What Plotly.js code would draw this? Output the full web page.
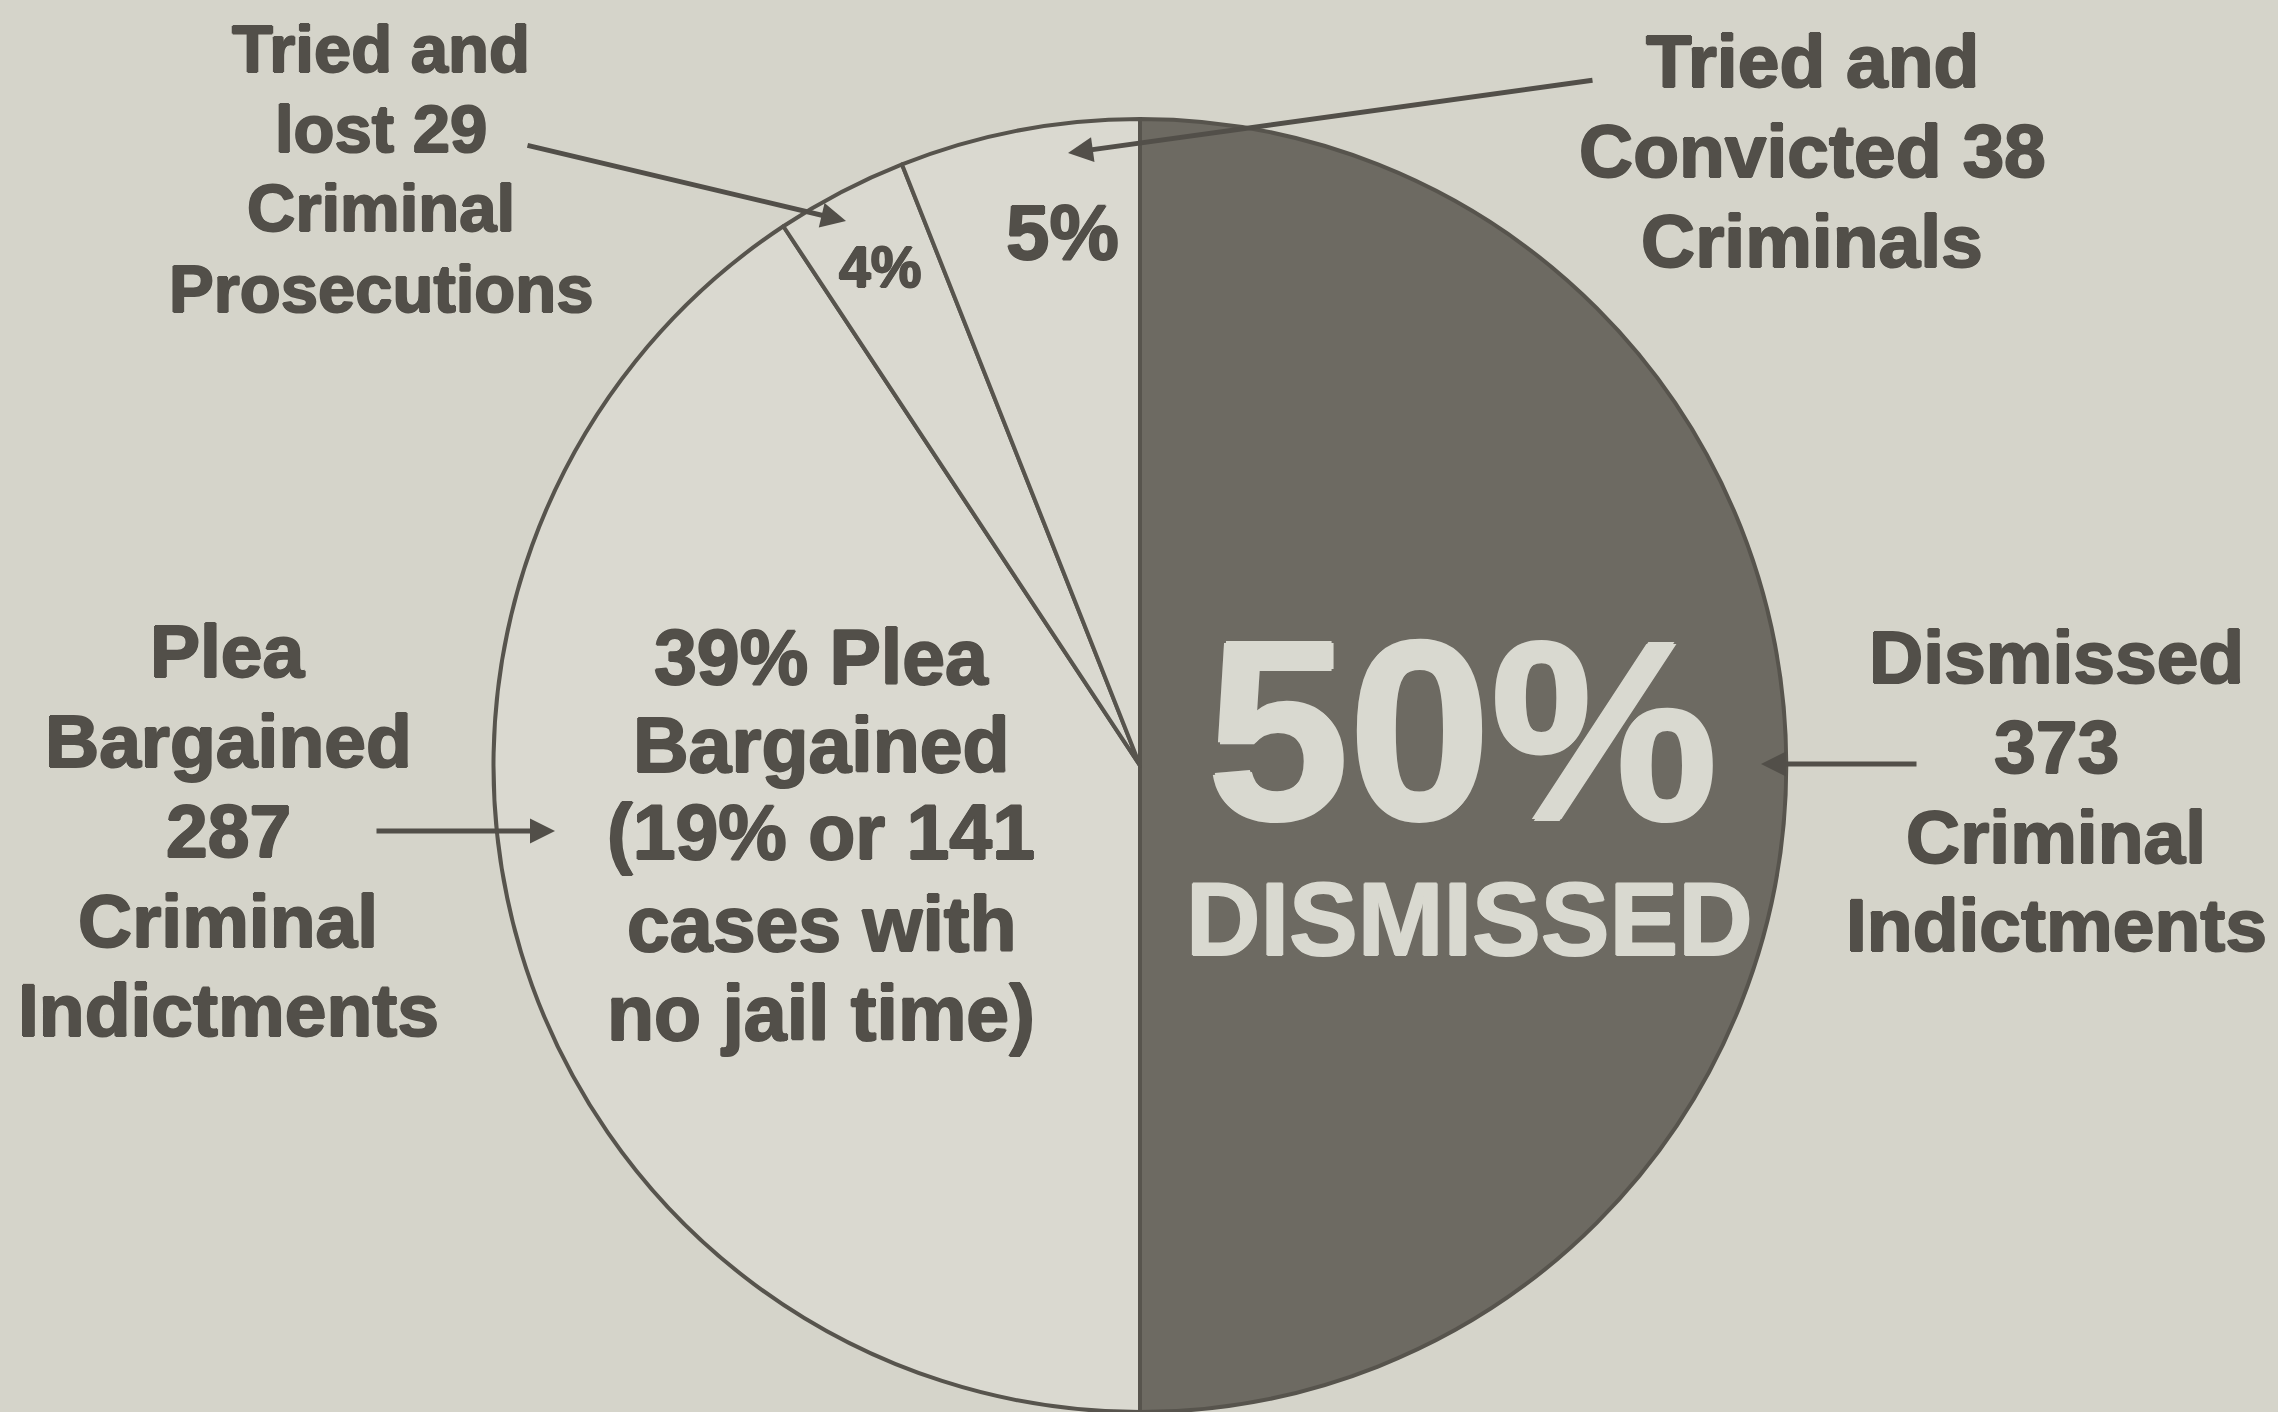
<!DOCTYPE html>
<html>
<head>
<meta charset="utf-8">
<script src="https://cdn.plot.ly/plotly-3.0.1.min.js"></script>
<style>
html,body{margin:0;padding:0;background:#d5d4ca;}
#chart{width:2278px;height:1412px;}
</style>
</head>
<body>
<div id="chart"></div>
<script>
// ---- data ----
const sliceLabels = ['Dismissed', 'Plea Bargained', 'Tried and lost', 'Tried and convicted'];
// share of the circle each slice occupies as drawn (percent)
const sliceShares = [50, 40.7, 3.3, 6.0];
// case counts printed in the callouts
const caseCounts = [373, 287, 29, 38];
// percentages printed on the chart
const printedPercents = [50, 39, 4, 5];
const noJailPercent = 19;
const noJailCases = 141;

// ---- styling ----
const W = 2278, H = 1412;
const BG = '#d5d4ca';
const LIGHT = '#dad9d0';
const DARK = '#6d6a62';
const EDGE = '#57544d';
const INK = '#524f49';
const PALE = '#d9d9d0';
const FAMILY = '"Liberation Sans", Arial, sans-serif';

const px = x => x / W;
const py = y => 1 - y / H;

// faux-heavy weight: thin outline of the same colour around the glyphs
function heavy(c, d) {
  return [d + 'px 0 0 ' + c, '-' + d + 'px 0 0 ' + c, '0 ' + d + 'px 0 ' + c, '0 -' + d + 'px 0 ' + c].join(', ');
}

const annotations = [];
function textLines(lines, cx, ys, size, color, d) {
  const col = color || INK;
  lines.forEach((t, i) => {
    annotations.push({
      xref: 'paper', yref: 'paper', x: px(cx), y: py(ys[i]),
      xanchor: 'center', yanchor: 'middle', showarrow: false,
      text: t,
      font: {family: FAMILY, size: size, color: col, weight: 'bold', shadow: heavy(col, d || 1)}
    });
  });
}
function arrow(hx, hy, tx, ty) {
  annotations.push({
    xref: 'paper', yref: 'paper', x: px(hx), y: py(hy),
    ax: tx - hx, ay: ty - hy, axref: 'pixel', ayref: 'pixel',
    text: '', showarrow: true, arrowhead: 2, arrowsize: 1, arrowwidth: 5,
    arrowcolor: INK, standoff: 0, startstandoff: 0
  });
}

// callouts outside the pie
textLines(['Tried and', 'lost ' + caseCounts[2], 'Criminal', 'Prosecutions'], 381, [48, 128, 208, 289], 67);
textLines(['Tried and', 'Convicted ' + caseCounts[3], 'Criminals'], 1812, [61, 151, 241], 75);
textLines(['Plea', 'Bargained', String(caseCounts[1]), 'Criminal', 'Indictments'], 228, [651, 741, 831, 921, 1010], 75);
textLines(['Dismissed', String(caseCounts[0]), 'Criminal', 'Indictments'], 2056, [657, 747, 837, 925], 75);

// labels inside the pie
textLines([printedPercents[1] + '% Plea', 'Bargained', '(' + noJailPercent + '% or ' + noJailCases, 'cases with', 'no jail time)'],
          821, [657, 745, 832, 924, 1013], 77);
textLines([printedPercents[0] + '%'], 1462, [730], 255, PALE, 2);
textLines(['DISMISSED'], 1469, [919], 103, PALE, 1);
textLines([printedPercents[3] + '%'], 1062, [232], 78);
textLines([printedPercents[2] + '%'], 880, [267], 57);

// arrows (head, tail)
arrow(846, 221, 526, 145);
arrow(1068, 153, 1594, 80);
arrow(555, 831, 375, 831);
arrow(1761, 764, 1918, 764);

const trace = {
  type: 'pie',
  labels: sliceLabels,
  values: sliceShares,
  sort: false,
  direction: 'clockwise',
  rotation: 0,
  textinfo: 'none',
  hoverinfo: 'skip',
  marker: {colors: [DARK, LIGHT, LIGHT, LIGHT], line: {color: EDGE, width: 4}},
  domain: {x: [(1140 - 646.5) / W, (1140 + 646.5) / W], y: [0, 1 - 119 / H]}
};

const layout = {
  width: W, height: H,
  margin: {l: 0, r: 0, t: 0, b: 0},
  paper_bgcolor: BG, plot_bgcolor: BG,
  showlegend: false,
  annotations: annotations
};

Plotly.newPlot('chart', [trace], layout, {displayModeBar: false, staticPlot: true});
</script>
</body>
</html>
